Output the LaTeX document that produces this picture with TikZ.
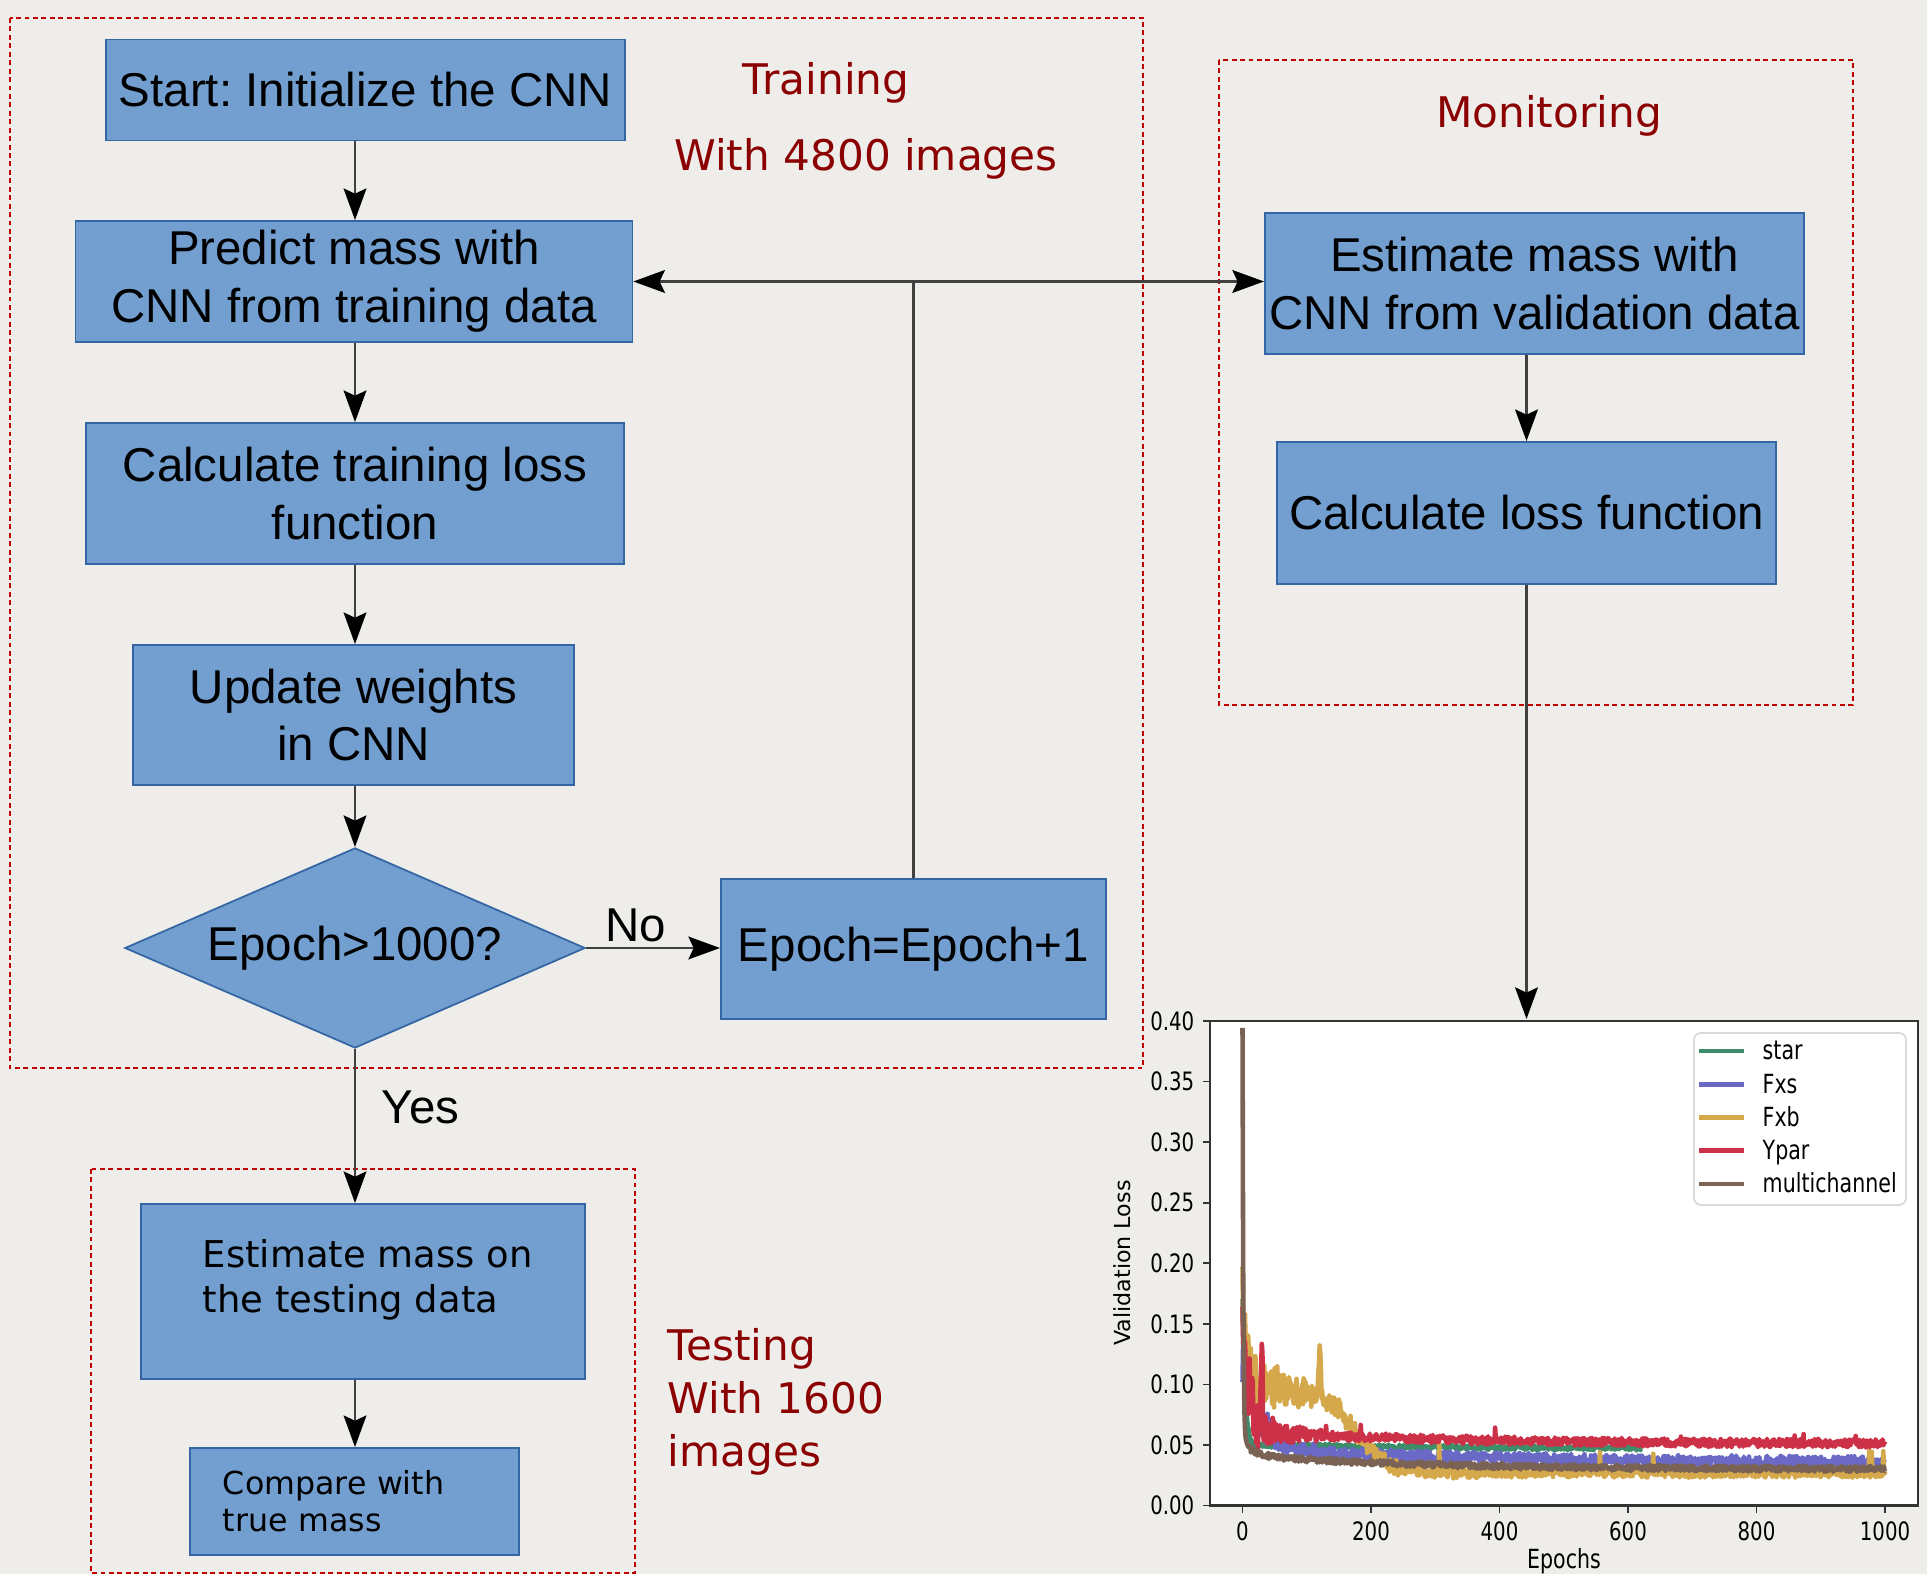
\documentclass[tikz,border=0pt]{standalone}
\usepackage{fontspec}
\setmainfont{Liberation Sans}
\newfontfamily\labelfont{DejaVu Sans}
\newfontfamily\plotfont[FakeStretch=0.78]{DejaVu Sans}
\usetikzlibrary{arrows.meta,shapes.geometric}
\frenchspacing
\definecolor{paper}{HTML}{EEEDEA}
\definecolor{flowblue}{HTML}{729FCF}
\definecolor{flowedge}{HTML}{3465A4}
\definecolor{headred}{HTML}{8B0000}
\definecolor{framered}{HTML}{C00000}
\definecolor{lstar}{HTML}{3D8C6A}
\definecolor{lfxs}{HTML}{6A6AC6}
\definecolor{lfxb}{HTML}{D5A84B}
\definecolor{lypar}{HTML}{CD3148}
\definecolor{lmulti}{HTML}{7A6254}

\begin{document}
\begin{tikzpicture}[x=0.01cm, y=-0.01cm,
    font=\fontsize{13.5}{16.4}\selectfont,
    box/.style={rectangle, draw=flowedge, fill=flowblue, line width=0.5pt, inner sep=0pt, align=center},
    decision/.style={diamond, draw=flowedge, fill=flowblue, line width=0.5pt, inner sep=0pt, aspect=2.3},
    testbox/.style={rectangle, draw=flowedge, fill=flowblue, line width=0.5pt},
    group/.style={draw=framered, line width=0.8pt, dash pattern=on 1.4pt off 1pt},
    heading/.style={text=headred, font=\labelfont\fontsize{12}{15}\selectfont},
    link/.style={line width=0.6pt, black!75},
    arrow/.style={-{Stealth[length=9pt,width=6.5pt,inset=1.5pt,color=black]}, line width=0.6pt, black!75},
    curve/.style={line width=1.3pt, line join=round},
    ticklabel/.style={font=\plotfont\fontsize{7.2}{8.6}\selectfont, inner sep=0pt}
  ]
    \useasboundingbox (0,0) rectangle (1927,1574);
    \fill[paper] (0,0) rectangle (1927,1574);

    \draw[group] (10,18) rectangle (1143,1068);
    \draw[group] (1219,60) rectangle (1853,705);
    \draw[group] (91,1169) rectangle (635,1573);

    \node[heading] (trainhead) at (826,83) {Training};
    \node[heading] (trainsize) at (866,159) {With 4800 images};
    \node[heading] (monhead) at (1549,116) {Monitoring};
    \node[heading, align=left, anchor=north west, inner sep=0pt] (testhead) at (667,1328) {Testing\\With 1600\\images};

    \node[box, minimum width=5.18cm, minimum height=1.01cm] (start) at (365.5,90) {Start: Initialize the CNN};
    \node[box, minimum width=5.565cm, minimum height=1.21cm] (predict) at (354,281.5) {Predict mass with\\CNN from training data};
    \node[box, minimum width=5.38cm, minimum height=1.41cm] (trainloss) at (355,493.5) {Calculate training loss\\function};
    \node[box, minimum width=4.41cm, minimum height=1.40cm] (update) at (353.5,715) {Update weights\\in CNN};
    \node[decision, minimum width=4.6cm, minimum height=2.0cm] (check) at (355,948) {Epoch>1000?};
    \node[box, minimum width=3.85cm, minimum height=1.40cm] (increment) at (913.5,949) {Epoch=Epoch+1};
    \node[box, minimum width=5.39cm, minimum height=1.41cm] (validate) at (1534.5,283.5) {Estimate mass with\\CNN from validation data};
    \node[box, minimum width=4.99cm, minimum height=1.42cm] (valloss) at (1526.5,513) {Calculate loss function};
    \node[testbox, inner xsep=0.52cm, inner ysep=0.35cm, font=\labelfont\fontsize{10.5}{12.8}\selectfont] (estimate) at (363,1291.5)
      {\parbox[t][1.05cm][t]{3.4cm}{\raggedright\hspace*{0.1cm}Estimate mass on\\\hspace*{0.1cm}the testing data}};
    \node[testbox, inner xsep=0.33cm, inner ysep=0pt, text width=2.63cm, minimum height=1.07cm, align=left,
      font=\labelfont\fontsize{9}{10.5}\selectfont] (compare) at (354.5,1501.5) {Compare with\\true mass};

    \draw[arrow] (start.south -| check) -- (predict.north -| check);
    \draw[arrow] (predict.south -| check) -- (trainloss.north -| check);
    \draw[arrow] (trainloss.south -| check) -- (update.north -| check);
    \draw[arrow] (update.south -| check) -- (check.north);
    \draw[arrow] (check.east) -- node[pos=0.37, above, inner sep=1.5pt, text=black] (no) {No} (check.east -| increment.west);
    \draw[arrow] (check.south) -- node[pos=0.38, right=4pt, text=black] (yes) {Yes} (check.south |- estimate.north);
    \draw[arrow] (estimate.south -| check) -- (compare.north -| check);
    \draw[link] (increment.north) -- (increment.north |- predict.east) coordinate (loop);
    \draw[arrow] (loop) -- (predict.east);
    \draw[arrow] (loop) -- (loop -| validate.west);
    \draw[arrow] (validate.south -| valloss) -- (valloss.north);
    \coordinate (plottop) at (1526.5,1019);
    \draw[arrow] (valloss.south) -- (plottop);

    % validation loss plot
    \fill[white] (1210,1021) rectangle (1918,1505.5);
    \coordinate (origin) at (1242.5,1505.5);
    \pgfmathsetseed{11}
    \begin{scope}
      \clip (1210,1021) rectangle (1918,1505.5);
      \begin{scope}[shift={(origin)}, x=0.006425cm, y=12.11cm]
        \draw[curve, lstar] plot[domain=0:620, samples=621] (\x, {0.047 + 0.003*exp(max(-\x/300,-9)) + 0.12*exp(max(-\x/4,-9)) + 0.002*rand});
        \draw[curve, lfxs] plot[domain=0:1000, samples=1001] (\x, {0.035 + 0.012*exp(max(-\x/350,-9)) + 0.08*exp(max(-\x/25,-9)) + 0.005*rand + 0.03*rand*exp(max(-\x/40,-9))});
        \draw[curve, lfxb] plot[domain=0:1000, samples=1001] (\x, {0.027 + 0.07/(1+exp(min(max((\x-175)/25,-9),9))) + 0.08*exp(max(-\x/6,-9)) + 0.004*rand + 0.025*rand*exp(max(-\x/110,-9)) + 0.045*exp(-min(abs(\x-120)/2,3)*min(abs(\x-120)/2,3)) + 0.018*(rnd>0.99)*(\x>250)});
        \draw[curve, lypar] plot[domain=0:1000, samples=1001] (\x, {0.051 + 0.01*exp(max(-\x/300,-9)) + 0.1*exp(max(-\x/10,-9)) + 0.0035*rand + 0.01*(rnd>0.97)*rnd + 0.035*rand*exp(max(-\x/40,-9)) + 0.08*exp(-min(abs(\x-30)/1.5,3)*min(abs(\x-30)/1.5,3))});
        \draw[curve, lmulti] plot[domain=0:1000, samples=1001] (\x, {0.030 + 0.012*exp(max(-\x/250,-9)) + 0.34*exp(max(-\x/1.2,-9)) + 0.012*exp(max(-\x/15,-9)) + 0.0025*rand});
      \end{scope}
    \end{scope}
    \draw[black!80, line width=0.6pt] (1210,1021) rectangle (1918,1505.5);

    \foreach \t [count=\i from 0] in {0.00,0.05,0.10,0.15,0.20,0.25,0.30,0.35,0.40} {
      \draw[black!80, line width=0.5pt] (1210,{1505.5-\i*60.56}) -- ++(-7,0);
      \node[ticklabel, anchor=east] (ylab\i) at (1195,{1505.5-\i*60.56}) {\t};
    }
    \foreach \e in {0,200,400,600,800,1000} {
      \draw[black!80, line width=0.5pt] ({1242.5+\e*0.6425},1505.5) -- ++(0,7);
      \node[ticklabel, anchor=north] (xlab\e) at ({1242.5+\e*0.6425},1521) {\e};
    }
    \node[rotate=90, font=\labelfont\fontsize{6.3}{7.5}\selectfont] (ylabel) at (1122,1263) {Validation Loss};
    \node[font=\plotfont\fontsize{7.5}{9}\selectfont] (xlabel) at (1564,1561) {Epochs};

    \draw[rounded corners=2pt, draw=black!15, fill=white, line width=0.5pt] (1694,1033) rectangle (1906,1205);
    \foreach \name/\col [count=\i from 0] in {star/lstar, Fxs/lfxs, Fxb/lfxb, Ypar/lypar, multichannel/lmulti} {
      \draw[\col, line width=1.4pt] (1699,{1051+\i*33.25}) -- (1744,{1051+\i*33.25});
      \node[anchor=base west, inner sep=0pt, font=\plotfont\fontsize{7.5}{9}\selectfont] (key\i) at (1762,{1060+\i*33.25}) {\name};
    }
  \end{tikzpicture}
\end{document}
